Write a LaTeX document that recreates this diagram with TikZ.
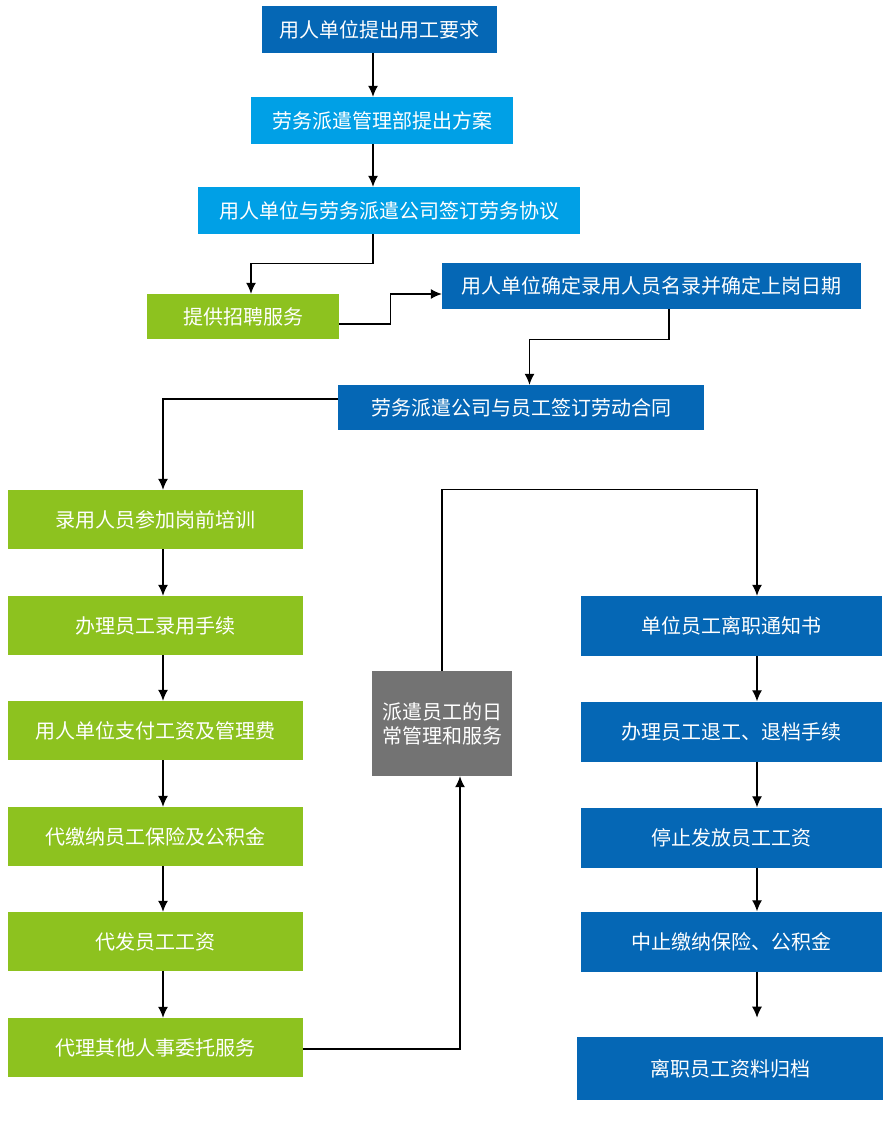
\documentclass[tikz,border=0pt]{standalone}
\usepackage{fontspec}
\setmainfont{Noto Sans CJK SC}
\usepackage{tikz}
\usetikzlibrary{arrows, arrows.meta}
\definecolor{deepblue}{HTML}{0567B5}
\definecolor{skyblue}{HTML}{00A0E6}
\definecolor{leafgreen}{HTML}{8DC21F}
\definecolor{midgray}{HTML}{737373}
\tikzset{box/.style = {shape = rectangle, inner sep = 0pt, text = white, align = center, font = \fontsize{20}{24}\selectfont}}
\tikzset{lbox/.style = {box, fill = leafgreen, minimum width = 295pt, minimum height = 59pt}}
\tikzset{rbox/.style = {box, fill = deepblue, minimum width = 301pt, minimum height = 60pt}}
\tikzset{edge/.style = {->, > = {Latex[length = 11pt, width = 10pt]}, line width = 1.3pt}}

\begin{document}
\begin{tikzpicture}[x = 1pt, y = -1pt]
			\useasboundingbox (0, 0) rectangle (892, 1129);

			\node[box, fill = deepblue, minimum width = 235pt, minimum height = 47pt] (a) at (379.5, 29.5) {用人单位提出用工要求};
			\node[box, fill = skyblue, minimum width = 262pt, minimum height = 47pt] (b) at (382, 120.5) {劳务派遣管理部提出方案};
			\node[box, fill = skyblue, minimum width = 382pt, minimum height = 47pt] (c) at (389, 210.5) {用人单位与劳务派遣公司签订劳务协议};
			\node[box, fill = leafgreen, minimum width = 192pt, minimum height = 45pt] (d) at (243, 316.5) {提供招聘服务};
			\node[box, fill = deepblue, minimum width = 419pt, minimum height = 46pt] (e) at (651.5, 286) {用人单位确定录用人员名录并确定上岗日期};
			\node[box, fill = deepblue, minimum width = 366pt, minimum height = 45pt] (f) at (521, 407.5) {劳务派遣公司与员工签订劳动合同};

			\node[lbox] (l1) at (155.5, 519.5) {录用人员参加岗前培训};
			\node[lbox] (l2) at (155.5, 625.5) {办理员工录用手续};
			\node[lbox] (l3) at (155.5, 730.5) {用人单位支付工资及管理费};
			\node[lbox] (l4) at (155.5, 836.5) {代缴纳员工保险及公积金};
			\node[lbox] (l5) at (155.5, 941.5) {代发员工工资};
			\node[lbox] (l6) at (155.5, 1047.5) {代理其他人事委托服务};

			\node[box, fill = midgray, minimum width = 140pt, minimum height = 105pt] (g) at (442, 723.5) {派遣员工的日\\常管理和服务};

			\node[rbox] (r1) at (731.5, 626) {单位员工离职通知书};
			\node[rbox] (r2) at (731.5, 731.5) {办理员工退工、退档手续};
			\node[rbox] (r3) at (731.5, 837.5) {停止发放员工工资};
			\node[rbox] (r4) at (731.5, 941.5) {中止缴纳保险、公积金};
			\node[rbox, minimum width = 306pt, minimum height = 63pt] (r5) at (730, 1068.5) {离职员工资料归档};

			\coordinate (m) at (373, 0);
			\coordinate (n) at (163, 0);
			\coordinate (k) at (757, 0);

			\draw[edge] (a.south -| m) to (b.north -| m);
			\draw[edge] (b.south -| m) to (c.north -| m);
			\draw[edge] (c.south -| m) -- ++(0, 29) -| ([xshift = 8pt]d.north);
			\draw[edge] ([yshift = -7.5pt]d.east) -- ++(51, 0) |- ([yshift = -8pt]e.west);
			\draw[edge] ([xshift = 17.5pt]e.south) -- ++(0, 30) -| ([xshift = 8.5pt]f.north);
			\draw[edge] ([yshift = 8.5pt]f.west) -| ([xshift = 7.5pt]l1.north);

			\draw[edge] (l1.south -| n) to (l2.north -| n);
			\draw[edge] (l2.south -| n) to (l3.north -| n);
			\draw[edge] (l3.south -| n) to (l4.north -| n);
			\draw[edge] (l4.south -| n) to (l5.north -| n);
			\draw[edge] (l5.south -| n) to (l6.north -| n);

			\draw[edge] ([yshift = -1.5pt]l6.east) -| ([xshift = 18pt]g.south);
			\draw[edge] (g.north) -- ++(0, -181) -| (r1.north -| k);

			\draw[edge] (r1.south -| k) to (r2.north -| k);
			\draw[edge] (r2.south -| k) to (r3.north -| k);
			\draw[edge] (r3.south -| k) to (r4.north -| k);
			\draw[edge] (r4.south -| k) -- ++(0, 46);
		\end{tikzpicture}
\end{document}
